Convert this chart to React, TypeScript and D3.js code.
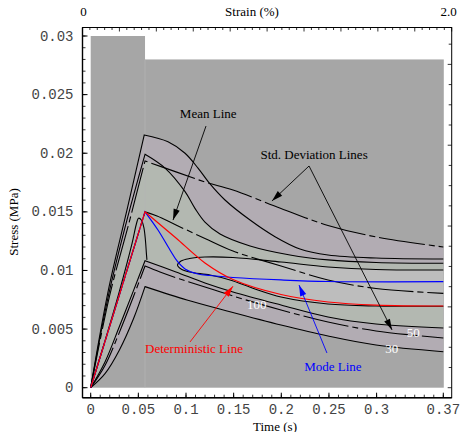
import React from 'react';
import * as d3 from 'd3';

type P = [number, number];

// ---------- axis data ----------
const yTicks = [0, 0.005, 0.01, 0.015, 0.02, 0.025, 0.03];
const yTickLabels = ['0', '0.005', '0.01', '0.015', '0.02', '0.025', '0.03'];
const xTicks = [0, 0.05, 0.1, 0.15, 0.2, 0.25, 0.3, 0.37];
const xTickLabels = ['0', '0.05', '0.1', '0.15', '0.2', '0.25', '0.3', '0.37'];
const strainTicks = [0, 2.0];
const strainTickLabels = ['0', '2.0'];
const PSI = 0.00689476;

// background blocks: [t0, t1, top stress]
const blockStarts = [0, 0.057];
const blockEnds = [0.057, 0.3705];
const blockTops = [0.03, 0.028];

// ---------- curves (time s, stress MPa) ----------
const c1Rise: P[] = [[0, 0], [0.0185, 0.0083], [0.0379, 0.0151], [0.0562, 0.02156]];
const c1Decay: P[] = [[0.0562, 0.02156], [0.0811, 0.02098], [0.099, 0.02], [0.1126, 0.01873], [0.1252, 0.01738], [0.1409, 0.01601], [0.1672, 0.0143], [0.1934, 0.01288], [0.2196, 0.01183], [0.249, 0.01132], [0.2994, 0.01106], [0.37, 0.01098]];

const aRise: P[] = [[0, 0], [0.019, 0.008], [0.038, 0.0143], [0.057, 0.01991]];
const aDecay: P[] = [[0.057, 0.01991], [0.078, 0.01873], [0.099, 0.01672], [0.1094, 0.0153], [0.1199, 0.01413], [0.1357, 0.01311], [0.1672, 0.01209], [0.2091, 0.01132], [0.249, 0.0109], [0.2994, 0.01068], [0.37, 0.01061]];

const suRise: P[] = [[0, 0], [0.02, 0.0079], [0.04, 0.014], [0.057, 0.01934]];
const suDecay: P[] = [[0.057, 0.01934], [0.0895, 0.01841], [0.1199, 0.01755], [0.1493, 0.01686], [0.1997, 0.01529], [0.249, 0.01384], [0.2994, 0.01286], [0.37, 0.012]];

const meanRise: P[] = [[0, 0], [0.057, 0.015]];
const meanDecay: P[] = [[0.057, 0.015], [0.0696, 0.01465], [0.0895, 0.01388], [0.1199, 0.01273], [0.1493, 0.01166], [0.1997, 0.01038], [0.249, 0.00919], [0.2994, 0.00846], [0.37, 0.00805]];

const slRise: P[] = [[0, 0], [0.015, 0.0019], [0.03, 0.0047], [0.045, 0.0078], [0.057, 0.01038]];
const slDecay: P[] = [[0.057, 0.01038], [0.0727, 0.00987], [0.0937, 0.00927], [0.1199, 0.00859], [0.1493, 0.00782], [0.1997, 0.00663], [0.249, 0.0056], [0.2994, 0.00484], [0.37, 0.00424]];

const detRise: P[] = [[0, 0], [0.057, 0.015]];
const detDecay: P[] = [[0.057, 0.015], [0.0696, 0.01413], [0.0895, 0.01277], [0.1199, 0.01064], [0.1493, 0.00923], [0.1997, 0.00795], [0.249, 0.00731], [0.2994, 0.00705], [0.37, 0.00697]];

const modeRise: P[] = [[0, 0], [0.057, 0.015]];
const modeDecay: P[] = [[0.057, 0.015], [0.0706, 0.01345], [0.0832, 0.01175], [0.0906, 0.01081], [0.099, 0.01013], [0.1126, 0.0097], [0.1252, 0.00957], [0.1493, 0.0094], [0.1997, 0.00919], [0.249, 0.00906], [0.37, 0.00904]];

const p5Rise: P[] = [[0, 0], [0.015, 0.0022], [0.03, 0.0052], [0.045, 0.0083], [0.057, 0.01083]];
const p5Decay: P[] = [[0.057, 0.01083], [0.0895, 0.00987], [0.1199, 0.00893], [0.1493, 0.00816], [0.1997, 0.00705], [0.249, 0.00603], [0.2994, 0.00543], [0.37, 0.00509]];

const lowRise: P[] = [[0, 0], [0.015, 0.0012], [0.03, 0.0032], [0.045, 0.0059], [0.057, 0.00862]];
const lowDecay: P[] = [[0.057, 0.00862], [0.101, 0.00748], [0.1462, 0.00648], [0.1997, 0.00535], [0.249, 0.00441], [0.2994, 0.00364], [0.37, 0.00307]];

const humpLine: P[] = [[0, 0], [0.015, 0.004], [0.03, 0.0082], [0.0434, 0.01231], [0.0478, 0.01392], [0.0502, 0.01446], [0.0533, 0.01428], [0.0558, 0.01365], [0.0574, 0.0126], [0.0584, 0.0115], [0.059, 0.0109]];

const noseLine: P[] = [[0.37, 0.01004], [0.2994, 0.01008], [0.249, 0.0103], [0.1997, 0.01072], [0.1493, 0.01111], [0.1199, 0.01115], [0.1037, 0.01102], [0.0948, 0.01081], [0.0911, 0.01047], [0.0948, 0.01013], [0.1037, 0.00987], [0.1252, 0.00961], [0.1462, 0.00919], [0.1724, 0.00842], [0.1997, 0.00774], [0.249, 0.00714], [0.2994, 0.00697], [0.37, 0.00695]];

// ---------- annotations (data coords) ----------
const textLabels = ['Mean Line', 'Std. Deviation Lines', 'Deterministic Line', 'Mode Line', '100', '50', '30'];
const textPos: P[] = [[0.1233, 0.023], [0.2344, 0.01951], [0.1084, 0.00296], [0.2542, 0.00142], [0.1742, 0.00671], [0.3385, 0.00432], [0.3158, 0.00292]];
const textColors = ['#000', '#000', '#ff0000', '#0000ff', '#fff', '#fff', '#fff'];
const arrowFrom: P[] = [[0.121, 0.02232], [0.2291, 0.01891], [0.2291, 0.01891], [0.1042, 0.0039], [0.2479, 0.00296]];
const arrowTo: P[] = [[0.0864, 0.0143], [0.1902, 0.01593], [0.3162, 0.00493], [0.1493, 0.00866], [0.2186, 0.00876]];
const arrowColors = ['#000', '#000', '#000', '#ff0000', '#0000ff'];

const FRAME = { left: 82.5, right: 451.7, top: 27.5, bottom: 397.7 };
const COLORS = { dark: '#a6a6a6', pink: '#b2acb3', green: '#b3b8b1', light: '#bdbdbd' };
const MONO = '"Liberation Mono", "DejaVu Sans Mono", monospace';
const SERIF = '"Liberation Serif", "DejaVu Serif", serif';

export default function App() {
  const x = d3.scaleLinear().domain([0, 0.3]).range([90.7, 376.6]);
  const y = d3.scaleLinear().domain([0, 0.03]).range([387.7, 36]);
  const sx = d3.scaleLinear().domain([0, 2]).range([FRAME.left, FRAME.right]);
  const py = d3.scaleLinear().domain([0, 1]).range([y(0), y(PSI)]);

  const line = d3.line<P>().x(d => x(d[0])).y(d => y(d[1])).curve(d3.curveCatmullRom.alpha(0.5));
  const join = (segs: P[][]) => segs.map((s, i) => { const p = line(s) || ''; return i ? p.replace(/^M/, 'L') : p; }).join('');
  const rev = (a: P[]) => a.slice().reverse();
  const band = (up: P[][], low: P[][]) => join([...up, ...low.slice().reverse().map(rev)]) + 'Z';

  const pinkUpper: P[] = [...c1Decay.filter(p => p[0] <= 0.126), ...suDecay.filter(p => p[0] > 0.126)];
  const greenUpper: P[] = [suDecay[0], ...aDecay.filter(p => p[0] >= 0.078)];

  const pinkPath = band([c1Rise, pinkUpper], [lowRise, lowDecay]);
  const greenPath = band([suRise, greenUpper], [p5Rise, p5Decay]);
  const lightPath = (line(noseLine) || '') + 'Z';

  const solid = (d: string, key: string) => <path key={key} d={d} fill="none" stroke="#000" strokeWidth={1.1} />;
  const dashed = (d: string, key: string) => <path key={key} d={d} fill="none" stroke="#000" strokeWidth={1.1} strokeDasharray="46,4,6,4" />;

  const arrowHead = (x1: number, y1: number, x2: number, y2: number, color: string, key: string) => {
    const a = Math.atan2(y2 - y1, x2 - x1);
    const len = 11, w = 3.2;
    const bx = x2 - len * Math.cos(a), by = y2 - len * Math.sin(a);
    const nx = -Math.sin(a) * w, ny = Math.cos(a) * w;
    return <polygon key={key} points={`${x2},${y2} ${bx + nx},${by + ny} ${bx - nx},${by - ny}`} fill={color} />;
  };

  const yMinor = d3.range(0, 0.0305, 0.001);
  const xMinor = d3.range(0, 0.375, 0.01);
  const topMinor = d3.range(0, 2.0001, 0.04);
  const psiTicks = d3.range(0, 4.3, 0.25);

  return (
    <svg width={460} height={432} style={{ position: 'absolute', left: 0, top: 0, background: '#fff' }}>
      {/* background blocks */}
      {blockStarts.map((t0, i) => (
        <rect key={'b' + i} x={x(t0)} y={y(blockTops[i])} width={x(blockEnds[i]) - x(t0)} height={y(0) - y(blockTops[i])} fill={COLORS.dark} />
      ))}
      {/* bands */}
      <path d={pinkPath} fill={COLORS.pink} />
      <path d={greenPath} fill={COLORS.green} />
      <path d={lightPath} fill={COLORS.light} />
      <line x1={x(0.057)} x2={x(0.057)} y1={y(0.028)} y2={y(0)} stroke="#b6b6b6" strokeWidth={0.7} />

      {/* solid contour lines */}
      {solid(join([c1Rise, c1Decay]), 'c1')}
      {solid(join([aRise, aDecay]), 'a')}
      {solid(join([p5Rise, p5Decay]), 'p5')}
      {solid(join([lowRise, lowDecay]), 'low')}
      {solid(line(humpLine) || '', 'hump')}
      {solid(line(noseLine) || '', 'nose')}

      {/* std / mean dash-dot */}
      {dashed(join([suRise, suDecay]), 'su')}
      {dashed(join([meanRise, meanDecay]), 'mean')}
      {dashed(join([slRise, slDecay]), 'sl')}

      {/* mode & deterministic */}
      <path d={join([modeRise, modeDecay])} fill="none" stroke="#0000ff" strokeWidth={1.2} />
      <path d={join([detRise, detDecay])} fill="none" stroke="#ff0000" strokeWidth={1.2} />

      {/* arrows */}
      {arrowFrom.map((f, i) => {
        const x1 = x(f[0]), y1 = y(f[1]), x2 = x(arrowTo[i][0]), y2 = y(arrowTo[i][1]);
        return (
          <g key={'ar' + i}>
            <line x1={x1} y1={y1} x2={x2} y2={y2} stroke={arrowColors[i]} strokeWidth={0.9} />
            {arrowHead(x1, y1, x2, y2, arrowColors[i], 'h' + i)}
          </g>
        );
      })}

      {/* text labels */}
      {textLabels.map((t, i) => (
        <text key={'t' + i} x={x(textPos[i][0])} y={y(textPos[i][1])} textAnchor="middle" fontFamily={SERIF} fontSize={13} fill={textColors[i]}>{t}</text>
      ))}

      {/* frame */}
      <rect x={FRAME.left} y={FRAME.top} width={FRAME.right - FRAME.left} height={FRAME.bottom - FRAME.top} fill="none" stroke="#000" strokeWidth={1} />
      <line x1={FRAME.left} x2={FRAME.left} y1={FRAME.top} y2={FRAME.bottom} stroke="#000" strokeWidth={1.4} />
      <line x1={FRAME.left} x2={FRAME.right} y1={FRAME.bottom} y2={FRAME.bottom} stroke="#000" strokeWidth={1.4} />

      {/* left ticks */}
      {yMinor.map((v, i) => (
        <line key={'ym' + i} x1={FRAME.left} x2={FRAME.left + 3} y1={y(v)} y2={y(v)} stroke="#000" strokeWidth={0.8} />
      ))}
      {yTicks.map((v, i) => (
        <g key={'yt' + i}>
          <line x1={FRAME.left} x2={FRAME.left + 5} y1={y(v)} y2={y(v)} stroke="#000" strokeWidth={1} />
          <text x={73.5} y={y(v) + 4.5} textAnchor="end" fontFamily={MONO} fontSize={14} fill="#444">{yTickLabels[i]}</text>
        </g>
      ))}
      {/* bottom ticks */}
      {xMinor.map((v, i) => (
        <line key={'xm' + i} x1={x(v)} x2={x(v)} y1={FRAME.bottom} y2={FRAME.bottom - 3} stroke="#000" strokeWidth={0.8} />
      ))}
      {xTicks.map((v, i) => (
        <g key={'xt' + i}>
          <line x1={x(v)} x2={x(v)} y1={FRAME.bottom} y2={FRAME.bottom - 5} stroke="#000" strokeWidth={1} />
          <text x={x(v)} y={414} textAnchor="middle" fontFamily={MONO} fontSize={14} fill="#444">{xTickLabels[i]}</text>
        </g>
      ))}
      {/* top ticks (strain) */}
      {topMinor.map((v, i) => (
        <line key={'tm' + i} x1={sx(v)} x2={sx(v)} y1={FRAME.top} y2={FRAME.top + (i % 5 === 0 ? 4 : 2.5)} stroke="#000" strokeWidth={0.8} />
      ))}
      {strainTicks.map((v, i) => (
        <text key={'st' + i} x={sx(v) + (i === 0 ? 1 : -3)} y={15.5} textAnchor="middle" fontFamily={SERIF} fontSize={13} fill="#000">{strainTickLabels[i]}</text>
      ))}
      {/* right ticks (psi) */}
      {psiTicks.map((v, i) => (
        <line key={'pt' + i} x1={FRAME.right} x2={FRAME.right - (i % 4 === 0 ? 4 : 3)} y1={py(v)} y2={py(v)} stroke="#000" strokeWidth={0.8} />
      ))}

      {/* axis titles */}
      <text x={252} y={16} textAnchor="middle" fontFamily={SERIF} fontSize={13} fill="#000">Strain (%)</text>
      <text x={275} y={430.5} textAnchor="middle" fontFamily={SERIF} fontSize={13} fill="#000">Time (s)</text>
      <text transform="translate(18,222) rotate(-90)" textAnchor="middle" fontFamily={SERIF} fontSize={13} fill="#000">Stress (MPa)</text>
    </svg>
  );
}
